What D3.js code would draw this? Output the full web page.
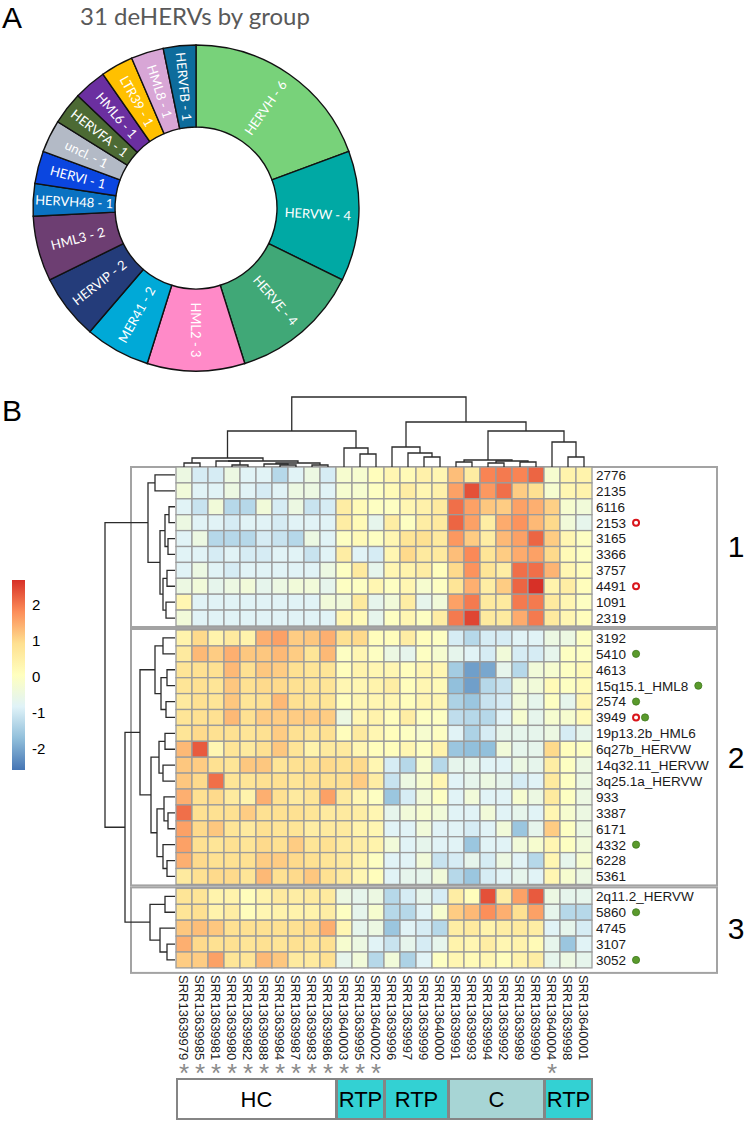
<!DOCTYPE html>
<html>
<head>
<meta charset="utf-8">
<script src="https://cdn.jsdelivr.net/npm/d3@7"></script>
<style>
  body { margin: 0; background: #fff; }
  svg { display: block; }
</style>
</head>
<body>
<svg id="chart" width="750" height="1122"></svg>
<script>
// ---- panel A data
const groupNames = ["HERVH", "HERVW", "HERVE", "HML2", "MER41", "HERVIP", "HML3", "HERVH48",
	"HERVI", "uncl.", "HERVFA", "HML6", "LTR39", "HML8", "HERVFB"];
const groupCounts = [6, 4, 4, 3, 2, 2, 2, 1, 1, 1, 1, 1, 1, 1, 1];
const groupColors = ["#78D27A", "#00A9A4", "#40A877", "#FF8AC8", "#00A9D7", "#243C7A", "#6D3E72", "#0A72C2",
	"#0B46E0", "#B3BAC6", "#4C6A34", "#6B2FA0", "#FFC000", "#D8A6D6", "#0D6C9C"];

// ---- panel B data
const samples = ["SRR13639979", "SRR13639985", "SRR13639981", "SRR13639980", "SRR13639982", "SRR13639988",
	"SRR13639984", "SRR13639987", "SRR13639983", "SRR13639986", "SRR13640003", "SRR13639995", "SRR13640002",
	"SRR13639996", "SRR13639997", "SRR13639999", "SRR13640000", "SRR13639991", "SRR13639993", "SRR13639994",
	"SRR13639992", "SRR13639989", "SRR13639990", "SRR13640004", "SRR13639998", "SRR13640001"];
const sampleStar = [1, 1, 1, 1, 1, 1, 1, 1, 1, 1, 1, 1, 1, 0, 0, 0, 0, 0, 0, 0, 0, 0, 0, 1, 0, 0];

const rowNames = ["2776", "2135", "6116", "2153", "3165", "3366", "3757", "4491", "1091", "2319",
	"3192", "5410", "4613", "15q15.1_HML8", "2574", "3949", "19p13.2b_HML6", "6q27b_HERVW", "14q32.11_HERVW",
	"3q25.1a_HERVW", "933", "3387", "6171", "4332", "6228", "5361",
	"2q11.2_HERVW", "5860", "4745", "3107", "3052"];
const rowCluster = [0, 0, 0, 0, 0, 0, 0, 0, 0, 0,
	1, 1, 1, 1, 1, 1, 1, 1, 1, 1, 1, 1, 1, 1, 1, 1,
	2, 2, 2, 2, 2];
// r = red ring, g = green dot
const rowMarks = ["", "", "", "r", "", "", "", "r", "", "",
	"", "g", "", "g", "g", "rg", "", "", "", "", "", "", "", "g", "", "",
	"", "g", "", "", "g"];

const values = [
	[-0.5, -0.95, -0.95, -0.5, -0.8, -0.8, -1.3, -0.8, -0.5, -0.95, -0.2, -0.2, 0.1, 0.3, 0.2, 0.45, 0.3, 1.3, 0.6, 1.9, 2.0, 1.9, 2.2, -0.2, 0.4, 0.4],
	[-0.35, -0.8, -0.8, -0.5, -0.8, -0.95, -0.8, -0.5, -0.5, -0.8, -0.2, -0.2, 0, 0.2, 0.55, 0.3, 0.45, 1.6, 2.4, 1.7, 2.1, 1.15, 0.9, -0.2, 0.3, 0.4],
	[-0.8, -1.1, -0.35, -1.3, -1.3, -0.35, -0.95, -0.5, -1.1, -0.95, 0.55, 0.2, 0, 0, 0.3, 0.45, 0.65, 2.1, 1.6, 1.2, 1.15, 1.6, 1.45, 1.1, -0.2, -0.35],
	[-0.5, -0.8, -0.8, -0.95, -0.8, -0.8, -0.95, -0.8, -0.8, -0.8, 0.55, 0.2, -0.65, 0.55, 0, 0.55, 0.65, 2.2, 1.6, 0.55, 1.5, 1.75, 1.35, 1.0, -0.35, -0.65],
	[-0.8, -0.5, -1.3, -1.3, -1.3, -0.95, -1.1, -1.3, -0.5, -0.8, 0, 0.2, 0, 0.3, 0.8, 0.9, 0.65, 1.7, 1.15, 0.55, 1.35, 1.6, 2.2, 1.15, 0.3, 0],
	[-0.8, -0.8, -0.95, -0.8, -0.95, -0.95, -0.8, -0.8, -1.1, -0.8, 0.55, -0.8, -0.95, 0.3, 1.0, 0.65, 0.65, 1.3, 1.85, 0.8, 1.15, 1.5, 1.6, 1.0, 0.2, 0],
	[-0.8, -0.5, -0.8, -0.95, -0.8, -0.8, -0.8, -0.8, -0.8, -0.5, 0, 0.65, -0.65, 0.3, 0.4, 0.55, 0.1, 1.0, 1.75, 0.8, 0.55, 2.1, 2.1, 1.4, 0.3, 0.1],
	[-0.5, -0.35, -0.65, -0.5, -0.35, -0.65, -0.5, -0.35, -0.35, -0.65, 0, 0, 0.3, 0, 0.3, -0.2, 0, 0.8, 1.45, 0.55, 1.15, 2.2, 2.7, 0.4, 0.55, 0.1],
	[0.3, -0.8, -0.8, -0.8, -0.8, -0.8, -0.8, -0.8, -0.8, -0.35, -0.35, 0.65, -0.65, -0.35, 0.55, -0.65, -0.35, 1.6, 2.0, 0.65, 0.65, 2.0, 2.0, 0.65, 0.3, 0],
	[-0.35, -0.8, -0.8, -0.8, -0.8, -0.8, -0.8, -0.8, -0.8, -0.8, 0.3, 0.2, -0.65, 0, 0.3, 0, 0.55, 2.0, 2.5, 0.65, 0.65, 1.5, 2.0, 0.65, 0.3, 0.1],
	[0.4, 1.0, 0.4, 0.65, 0.4, 1.45, 1.6, 1.15, 1.2, 1.45, 0.9, 1.0, 0.1, 0.1, 0.55, 0.1, 0, -0.95, -1.3, -0.95, -0.95, -0.8, -0.8, -0.5, -0.5, 0],
	[0.65, 1.35, 1.15, 1.45, 1.2, 1.2, 1.35, 1.15, 0.8, 1.35, 0, 0.3, 0, -0.5, -0.65, 0, -0.2, -0.65, -0.8, -0.95, -0.35, -0.95, -0.95, -0.65, 0, 0],
	[0.8, 0.9, 0.9, 1.35, 0.9, 1.2, 1.15, 0.9, 0.8, 0.8, 0.1, 0.4, 0.3, 0.3, 0.1, 0.3, 0.3, -1.5, -2.1, -2.0, -0.65, -1.3, -0.35, -0.2, 0, 0.2],
	[0.8, 0.9, 0.8, 1.2, 0.9, 1.0, 1.0, 0.9, 0.8, 0.8, 0.3, 0.3, 0.4, 0.55, 0.1, 0.3, 0.2, -1.7, -2.1, -1.3, -1.1, -0.35, -0.35, 0.2, 0, 0.2],
	[0.65, 0.9, 0.8, 1.2, 0.8, 0.9, 1.35, 0.9, 0.8, 0.8, 0.1, 0.3, 0.3, 0.3, 0.1, 0.3, 0.3, -1.4, -1.6, -1.1, -0.95, -0.35, -0.65, 0, -0.65, 0.3],
	[0.8, 0.9, 0.9, 1.35, 0.9, 1.15, 1.15, 1.15, 1.15, 1.15, -0.5, 0.3, 0.4, 0.1, 0.55, 0, 0, -1.2, -1.3, -1.3, -0.8, -0.2, -0.65, -0.2, -0.2, 0.2],
	[0.8, 1.0, 0.9, 0.9, 0.8, 0.9, 1.15, 0.9, 0.8, 0.9, 0.1, 0.65, 0.3, 0.1, 0, -0.2, 0, -0.8, -1.4, -0.95, -0.65, -0.65, -0.65, -0.5, -0.95, -0.65],
	[1.35, 2.3, 0.3, 0.8, 0.65, 0.9, 1.2, 0.8, 0.4, 0.65, 0.65, 0.3, 0.1, 0.1, 0.3, 0, 0.4, -1.6, -1.7, -1.7, -0.35, -0.65, -0.65, 1.0, 0.1, 0],
	[1.2, 1.15, 0.9, 0.8, 1.2, 1.2, 0.8, 0.9, 0.9, 1.0, 0.9, 1.0, 0.3, -0.95, -1.3, -0.2, -1.3, -0.65, -0.65, -0.8, -0.8, -0.5, -0.65, 0.55, 0, -0.5],
	[1.2, 1.0, 2.1, 0.8, 0.8, 0.9, 0.9, 0.8, 0.9, 0.9, 0.9, 1.15, 0.55, -1.1, -0.5, -0.2, 0.3, -0.8, -0.65, -0.5, -0.65, -0.95, -0.8, 0.65, 0, -0.5],
	[1.45, 0.9, 1.0, 0.65, 0.4, 1.45, 0.9, 0.65, 0.8, 1.6, 0.65, 0.3, 0, -1.6, -0.95, -0.35, 0, -0.8, -0.35, -0.8, -0.8, -0.2, -0.5, 0.65, 0, -0.5],
	[2.1, 0.9, 0.9, 0.9, 1.15, 0.9, 0.9, 0.9, 0.8, 0.65, 0.65, 0.55, 0.3, -0.65, -0.35, -0.2, -0.35, -0.8, -0.8, -0.35, -0.8, -0.65, -0.8, 0.3, -0.2, -0.5],
	[1.6, 1.0, 1.2, 0.8, 0.65, 0.9, 0.8, 0.8, 0.55, 0.65, 0.65, 0.4, 0.3, -0.8, -0.8, -0.35, -0.8, -0.8, -0.95, -0.8, -0.35, -1.6, -0.65, 1.15, 0, -0.5],
	[1.6, 0.9, 0.8, 0.9, 0.8, 1.0, 0.9, 1.15, 0.8, 0.9, 0.65, 0.55, 0.4, -0.35, -0.8, -0.65, -0.8, -0.8, -1.6, -0.8, -0.8, -0.35, -0.2, 0.3, 0, -0.35],
	[1.45, 1.0, 0.9, 0.9, 0.9, 1.15, 1.15, 1.0, 0.9, 0.8, 0.65, 0.4, 0, -0.8, -0.8, -0.35, -1.1, -0.95, -0.65, -0.95, -0.5, -0.8, -1.3, 0.3, -0.65, -0.2],
	[0.65, 0.9, 1.0, 1.0, 0.8, 1.35, 0.9, 1.0, 1.2, 0.9, 0.65, 0.3, 0.1, -0.8, -0.65, -0.65, -0.35, -1.3, -1.6, -0.95, -0.8, -0.65, -0.8, 0.3, -0.2, -0.5],
	[0.8, 0.8, 0.4, 0.4, 0.1, 0.4, 0.65, 0.55, 0.65, 0.65, -0.5, -0.65, -0.5, -1.3, -0.95, -0.65, -0.95, 0.55, 0.1, 2.4, 0.55, 1.6, 2.3, -0.5, -0.65, -0.65],
	[0.8, 0.9, 0.4, 0.55, 0.1, 0.3, 0.4, 0.4, 0.4, 0.55, 0, -0.65, -0.2, -1.3, -1.3, -0.8, -0.2, 1.15, 1.35, 1.8, 1.45, 0.9, 1.6, -0.65, -1.3, -1.3],
	[1.2, 1.3, 1.2, 0.9, 0.9, 0.9, 0.9, 0.9, 1.0, 1.45, 0.3, -0.65, -0.5, -1.6, -0.8, -0.95, -1.3, 0.55, 0.65, 0.4, 0.55, 0.65, 0.55, -0.8, -0.65, -0.95],
	[1.45, 1.0, 0.9, 0.9, 0.8, 0.9, 0.8, 0.9, 0.8, 0.9, -0.2, -0.5, -0.8, -1.1, -0.65, -0.95, -0.65, 0.4, 0.3, 0.55, 0.3, 0.4, 0.2, -0.65, -1.6, -0.8],
	[1.15, 1.15, 1.6, 0.8, 0.8, 1.35, 1.2, 0.65, 0.65, 0.9, -0.65, -0.35, -1.3, -0.35, -1.4, -0.8, 0, 0.3, 0.2, 0.3, 0.1, 0.4, 0.55, -0.65, -0.5, -0.65]
];

// dendrograms: [height, left, right], leaves are row / column indices
const colTree = [70,
	[36,
		[9, [4, 0, 1], [6, [6, 2, [2, 3, 4]], [4, [3, 5, [2, 6, 7]], [2, 8, 9]]]],
		[19, 10, [13, 11, 12]]],
	[45,
		[20, 13, [14, 14, [10, 15, 16]]],
		[36, [7, [5, 17, 18], [6, [4, 19, 20], [5, 21, 22]]], [25, 23, [10, 24, 25]]]]];
const rowTree = [70,
	[27, [20, 0, 1], [15, [10, [6, 2, 3], [7, 4, 5]], [12, [8, 6, 7], [9, 8, 9]]]],
	[50,
		[35, [20, [12, 10, 11], [14, [8, 12, 13], [9, 14, 15]]],
			[24, [16, [10, 16, 17], [12, 18, 19]], [18, [11, 20, [7, 21, 22]], [12, 23, [8, 24, 25]]]]],
		[25, [10, 26, 27], [15, 28, [8, 29, 30]]]]];

const legendTicks = [2, 1, 0, -1, -2];
const paletteColors = ["#4575B4", "#91BFDB", "#E0F3F8", "#FFFFBF", "#FEE090", "#FC8D59", "#D73027"];
const valueRange = [-2.6, 2.7];

const annotLabels = ["HC", "RTP", "RTP", "C", "RTP"];
const annotStart = [0, 10, 13, 17, 23];
const annotEnd = [10, 13, 17, 23, 26];
const annotFill = ["#ffffff", "#33D1D3", "#33D1D3", "#A7D5D5", "#33D1D3"];

// ---- setup
const svg = d3.select("#chart");
const FONT = "Arial, 'Liberation Sans', sans-serif";
const SOFT = "Lato, 'Open Sans', sans-serif";

// ================= Panel A: donut =================
svg.append("text").attr("x", 2).attr("y", 28).attr("font-family", FONT)
	.attr("font-size", 30).text("A");
svg.append("text").attr("x", 195).attr("y", 25).attr("text-anchor", "middle")
	.attr("font-family", SOFT).attr("font-size", 24)
	.attr("fill", "#595959").text("31 deHERVs by group");

const donut = svg.append("g").attr("transform", "translate(196,208)");
const pie = d3.pie().sort(null).value((d) => d)(groupCounts);
const arc = d3.arc().innerRadius(81).outerRadius(163);
donut.selectAll("path.slice")
	.data(pie)
	.join("path")
	.attr("class", "slice")
	.attr("d", arc)
	.attr("fill", (d, i) => groupColors[i])
	.attr("stroke", "#111")
	.attr("stroke-width", 1.4);
donut.selectAll("text.slabel")
	.data(pie)
	.join("text")
	.attr("class", "slabel")
	.attr("transform", (d) => {
		const c = arc.centroid(d);
		const deg = ((d.startAngle + d.endAngle) / 2) * 180 / Math.PI;
		const rot = deg <= 180 ? deg - 90 : deg + 90;
		return `translate(${c[0]},${c[1]}) rotate(${rot})`;
	})
	.attr("text-anchor", "middle")
	.attr("dy", "0.35em")
	.attr("font-family", SOFT)
	.attr("font-size", 13)
	.attr("fill", "#fff")
	.text((d, i) => `${groupNames[i]} - ${groupCounts[i]}`);

// ================= Panel B: heatmap =================
svg.append("text").attr("x", 2).attr("y", 421).attr("font-family", FONT)
	.attr("font-size", 30).text("B");

const hmLeft = 176, hmRight = 592, hmTop = 467;
const rowH = 15.9, clusterGap = 4;
const x = d3.scaleBand().domain(d3.range(samples.length)).range([hmLeft, hmRight]);
const rowY = (i) => hmTop + i * rowH + rowCluster[i] * clusterGap;
const color = d3.scaleLinear()
	.domain(d3.range(paletteColors.length).map((k) => valueRange[0] + k * (valueRange[1] - valueRange[0]) / (paletteColors.length - 1)))
	.range(paletteColors)
	.interpolate(d3.interpolateRgb)
	.clamp(true);

// cluster boxes
const clusters = d3.groups(d3.range(rowNames.length), (i) => rowCluster[i]);
const boxG = svg.append("g");
clusters.forEach(([c, idx]) => {
	const y0 = rowY(idx[0]);
	const y1 = rowY(idx[idx.length - 1]) + rowH;
	const top = c === 0 ? y0 : y0 - 1;
	const bottom = c === clusters.length - 1 ? y1 + 5 : y1 + 1;
	boxG.append("rect")
		.attr("x", 131).attr("y", top)
		.attr("width", 717 - 131)
		.attr("height", bottom - top)
		.attr("fill", "none").attr("stroke", "#a3a3a3").attr("stroke-width", 2);
	boxG.append("text")
		.attr("x", 736).attr("y", (y0 + y1) / 2)
		.attr("dy", "0.36em").attr("text-anchor", "middle")
		.attr("font-family", FONT).attr("font-size", 30)
		.text(c + 1);
});

// cells
const cells = [];
values.forEach((row, r) => row.forEach((v, c) => cells.push({ r, c, v })));
svg.append("g").selectAll("rect")
	.data(cells)
	.join("rect")
	.attr("x", (d) => x(d.c))
	.attr("y", (d) => rowY(d.r))
	.attr("width", x.bandwidth())
	.attr("height", rowH)
	.attr("fill", (d) => color(d.v))
	.attr("stroke", "#9b9b9b")
	.attr("stroke-width", 1.3);

// row labels + marks
const rowLab = svg.append("g").attr("font-family", FONT).attr("font-size", 13.5).attr("fill", "#1a1a1a");
rowNames.forEach((name, i) => {
	const t = rowLab.append("text")
		.attr("x", 596).attr("y", rowY(i) + rowH / 2).attr("dy", "0.36em")
		.text(name);
	let mx = 596 + t.node().getComputedTextLength() + 10;
	rowMarks[i].split("").forEach((m) => {
		if (m === "r") {
			rowLab.append("circle").attr("cx", mx).attr("cy", rowY(i) + rowH / 2).attr("r", 3)
				.attr("fill", "#fff").attr("stroke", "#d9151b").attr("stroke-width", 2);
		} else {
			rowLab.append("circle").attr("cx", mx).attr("cy", rowY(i) + rowH / 2).attr("r", 3.6)
				.attr("fill", "#5a9a2c").attr("stroke", "#3f7a1e").attr("stroke-width", 0.8);
		}
		mx += 9;
	});
});

// column labels
const colLab = svg.append("g").attr("font-family", FONT).attr("fill", "#1a1a1a");
samples.forEach((s, i) => {
	const cx = x(i) + x.bandwidth() / 2;
	colLab.append("text")
		.attr("transform", `translate(${cx},975) rotate(90)`)
		.attr("dy", "0.36em")
		.attr("font-size", 13)
		.text(s);
	if (sampleStar[i]) {
		colLab.append("text")
			.attr("x", cx).attr("y", 1082)
			.attr("text-anchor", "middle")
			.attr("font-size", 26)
			.attr("fill", "#8a8a8a")
			.text("*");
	}
});

// dendrograms
function drawTree(g, node, pos, hScale, vertical) {
	if (typeof node === "number") return { p: pos(node), h: 0 };
	const a = drawTree(g, node[1], pos, hScale, vertical);
	const b = drawTree(g, node[2], pos, hScale, vertical);
	const h = hScale(node[0]);
	const d = vertical
		? `M${a.p},${hScale(a.h)}V${h}H${b.p}V${hScale(b.h)}`
		: `M${hScale(a.h)},${a.p}H${h}V${b.p}H${hScale(b.h)}`;
	g.append("path").attr("d", d);
	return { p: (a.p + b.p) / 2, h: node[0] };
}
const dendG = svg.append("g").attr("fill", "none").attr("stroke", "#2b2b2b").attr("stroke-width", 1.3);
drawTree(dendG, colTree, (i) => x(i) + x.bandwidth() / 2, d3.scaleLinear().domain([0, 70]).range([hmTop, 397]), true);
drawTree(dendG, rowTree, (i) => rowY(i) + rowH / 2, d3.scaleLinear().domain([0, 70]).range([hmLeft - 1, 105]), false);

// colour legend
const legTop = 580, legBottom = 770;
const legScale = d3.scaleLinear().domain(valueRange).range([legBottom, legTop]);
const defs = svg.append("defs");
const grad = defs.append("linearGradient").attr("id", "leg").attr("x1", 0).attr("x2", 0).attr("y1", 1).attr("y2", 0);
color.domain().forEach((v, k) => grad.append("stop")
	.attr("offset", (v - valueRange[0]) / (valueRange[1] - valueRange[0]))
	.attr("stop-color", paletteColors[k]));
svg.append("rect").attr("x", 12).attr("y", legTop).attr("width", 13).attr("height", legBottom - legTop)
	.attr("fill", "url(#leg)");
svg.append("g").attr("font-family", FONT).attr("font-size", 15).selectAll("text")
	.data(legendTicks)
	.join("text")
	.attr("x", 32).attr("y", (d) => legScale(d)).attr("dy", "0.36em")
	.text((d) => d);

// annotation boxes
const annG = svg.append("g");
annotLabels.forEach((lab, k) => {
	const x0 = x(annotStart[k]) + 1, x1 = x(annotEnd[k] - 1) + x.bandwidth();
	annG.append("rect").attr("x", x0).attr("y", 1079).attr("width", x1 - x0).attr("height", 40)
		.attr("fill", annotFill[k]).attr("stroke", "#858585").attr("stroke-width", 2);
	annG.append("text").attr("x", (x0 + x1) / 2).attr("y", 1099).attr("dy", "0.36em")
		.attr("text-anchor", "middle").attr("font-family", FONT).attr("font-size", 22).text(lab);
});
</script>
</body>
</html>
